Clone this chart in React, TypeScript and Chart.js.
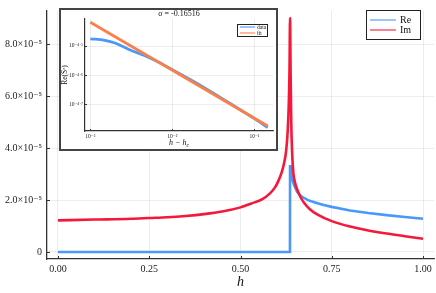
import { useEffect, useRef } from "react";
import { Chart, registerables } from "chart.js";

Chart.register(...registerables);

// ---------- main plot data ----------
const hRe = [0, 0.6355, 0.6357, 0.638, 0.641, 0.645, 0.65, 0.655, 0.665, 0.672, 0.685, 0.7, 0.725, 0.75, 0.8, 0.85, 0.9, 0.95, 1.0];
const reVals = [0, 0, 3.35e-5, 3.05e-5, 2.85e-5, 2.65e-5, 2.48e-5, 2.32e-5, 2.17e-5, 2.1e-5, 2.0e-5, 1.93e-5, 1.82e-5, 1.74e-5, 1.6e-5, 1.5e-5, 1.42e-5, 1.35e-5, 1.28e-5];

const hIm = [0, 0.1, 0.2, 0.25, 0.3, 0.35, 0.4, 0.45, 0.5, 0.53, 0.56, 0.58, 0.595, 0.605, 0.613, 0.619, 0.625, 0.629, 0.632, 0.6343, 0.6357, 0.6372, 0.639, 0.6415, 0.6447, 0.649, 0.655, 0.665, 0.675, 0.69, 0.71, 0.75, 0.8, 0.85, 0.9, 0.95, 1.0];
const imVals = [1.22e-5, 1.25e-5, 1.28e-5, 1.31e-5, 1.34e-5, 1.39e-5, 1.46e-5, 1.56e-5, 1.72e-5, 1.87e-5, 2.04e-5, 2.25e-5, 2.5e-5, 2.78e-5, 3.08e-5, 3.4e-5, 3.9e-5, 4.6e-5, 5.6e-5, 7.1e-5, 9.02e-5, 7.0e-5, 5.0e-5, 3.8e-5, 3.05e-5, 2.7e-5, 2.42e-5, 2.1e-5, 1.88e-5, 1.65e-5, 1.45e-5, 1.19e-5, 0.98e-5, 0.83e-5, 0.71e-5, 0.61e-5, 0.51e-5];

const xTicks = [0, 0.25, 0.5, 0.75, 1.0];
const xTickLabels = ["0.00", "0.25", "0.50", "0.75", "1.00"];
const yTicks = [0, 2e-5, 4e-5, 6e-5, 8e-5];
const yTickLabels = ["0", "2.0×10⁻⁵", "4.0×10⁻⁵", "6.0×10⁻⁵", "8.0×10⁻⁵"];
const seriesNames = ["Re", "Im"];

// ---------- inset data ----------
const insetDx = [0.001, 0.0015, 0.002, 0.003, 0.005, 0.007, 0.01, 0.02, 0.05, 0.1, 0.145];
const insetRe = [3.35e-5, 3.31e-5, 3.24e-5, 3.07e-5, 2.9e-5, 2.77e-5, 2.62e-5, 2.35e-5, 2.01e-5, 1.78e-5, 1.66e-5];
const fitDx = [0.001, 0.145];
const fitVals = [3.82e-5, 1.68e-5];
const insetNames = ["data", "fit"];
const insetXTicks = [1e-3, 1e-2, 1e-1];
const insetXTickLabels = ["10⁻³", "10⁻²", "10⁻¹"];
const insetYTicks = [Math.pow(10, -4.7), Math.pow(10, -4.6), Math.pow(10, -4.5)];
const insetYTickLabels = ["10⁻⁴·⁷", "10⁻⁴·⁶", "10⁻⁴·⁵"];
const insetTitle = "σ = -0.16516";

const BLUE = "rgb(74,152,248)";
const RED = "rgb(246,24,58)";
const ORANGE = "rgb(250,128,72)";
const SERIF = "'Liberation Serif', 'DejaVu Serif', serif";
const GRID = "rgba(0,0,0,0.09)";
const AXIS = "#333";

const inTicks = {
  id: "inTicks",
  afterDraw(chart: any, _a: any, o: any) {
    const { ctx, chartArea, scales } = chart;
    const len = o.len ?? 3;
    ctx.save();
    ctx.strokeStyle = AXIS;
    ctx.lineWidth = 1;
    ctx.beginPath();
    scales.x.ticks.forEach((t: any) => {
      const px = Math.round(scales.x.getPixelForValue(t.value)) + 0.5;
      ctx.moveTo(px, chartArea.bottom);
      ctx.lineTo(px, chartArea.bottom - len);
    });
    scales.y.ticks.forEach((t: any) => {
      const py = Math.round(scales.y.getPixelForValue(t.value)) + 0.5;
      ctx.moveTo(chartArea.left, py);
      ctx.lineTo(chartArea.left + len, py);
    });
    ctx.stroke();
    ctx.restore();
  },
};

const boxLegend = {
  id: "boxLegend",
  afterDraw(chart: any, _a: any, o: any) {
    const { ctx } = chart;
    ctx.save();
    ctx.fillStyle = "#fff";
    ctx.fillRect(o.x, o.y, o.w, o.h);
    ctx.strokeStyle = "#222";
    ctx.lineWidth = 1;
    ctx.strokeRect(o.x + 0.5, o.y + 0.5, o.w, o.h);
    ctx.font = `${o.fontSize}px ${SERIF}`;
    ctx.textBaseline = "middle";
    ctx.fillStyle = "#111";
    o.labels.forEach((lab: string, i: number) => {
      const ds = chart.data.datasets[i];
      const yy = o.rowY[i];
      ctx.globalAlpha = 0.55;
      ctx.strokeStyle = ds.borderColor;
      ctx.lineWidth = o.lw;
      ctx.beginPath();
      ctx.moveTo(o.lx0, yy);
      ctx.lineTo(o.lx1, yy);
      ctx.stroke();
      ctx.globalAlpha = 1;
      ctx.fillText(lab, o.tx, yy + 0.5);
    });
    ctx.restore();
  },
};

const insetXTitle = {
  id: "insetXTitle",
  afterDraw(chart: any) {
    const { ctx, chartArea } = chart;
    const cx = (chartArea.left + chartArea.right) / 2;
    const y = chart.height - 4;
    ctx.save();
    ctx.fillStyle = "#111";
    ctx.textBaseline = "alphabetic";
    ctx.font = `italic 8px ${SERIF}`;
    const main = "h − h";
    const w1 = ctx.measureText(main).width;
    ctx.font = `italic 5.5px ${SERIF}`;
    const w2 = ctx.measureText("c").width;
    const x0 = cx - (w1 + w2) / 2;
    ctx.font = `italic 8px ${SERIF}`;
    ctx.fillText(main, x0, y);
    ctx.font = `italic 5.5px ${SERIF}`;
    ctx.fillText("c", x0 + w1, y + 1.8);
    ctx.restore();
  },
};

function MainChart() {
  const ref = useRef<HTMLCanvasElement>(null);
  useEffect(() => {
    const chart = new Chart(ref.current as HTMLCanvasElement, {
      type: "scatter",
      data: {
        datasets: [
          {
            label: seriesNames[0],
            data: hRe.map((x, i) => ({ x, y: reVals[i] })),
            showLine: true,
            borderColor: BLUE,
            backgroundColor: BLUE,
            borderWidth: 2.6,
            pointRadius: 0,
            order: 1,
          },
          {
            label: seriesNames[1],
            data: hIm.map((x, i) => ({ x, y: imVals[i] })),
            showLine: true,
            borderColor: RED,
            backgroundColor: RED,
            borderWidth: 2.6,
            pointRadius: 0,
            borderJoinStyle: "round",
            cubicInterpolationMode: "monotone",
            order: 0,
          },
        ] as any,
      },
      options: {
        animation: false,
        responsive: false,
        events: [],
        layout: { padding: { left: 0, right: 2, top: 1, bottom: 0 } },
        plugins: {
          legend: { display: false },
          tooltip: { enabled: false },
          inTicks: { len: 3 },
          boxLegend: {
            x: 366, y: 10, w: 54, h: 29,
            lx0: 370, lx1: 396, tx: 400, rowY: [20, 30], lw: 2, fontSize: 10,
            labels: seriesNames,
          },
        } as any,
        scales: {
          x: {
            type: "linear",
            min: -0.03,
            max: 1.03,
            afterBuildTicks: (s: any) => {
              s.ticks = xTicks.map((v) => ({ value: v }));
            },
            afterFit: (s: any) => {
              s.height = 34;
            },
            ticks: {
              autoSkip: false,
              maxRotation: 0,
              padding: 4,
              color: "#222",
              font: { family: SERIF, size: 10 },
              callback: (_v: any, i: number) => xTickLabels[i],
            },
            grid: { color: GRID, lineWidth: 0.8, drawTicks: false },
            border: { display: true, color: AXIS, width: 1.3 },
            title: {
              display: true,
              text: "h",
              color: "#111",
              font: { family: SERIF, size: 14, style: "italic" },
              padding: { top: 0, bottom: 2 },
            },
          },
          y: {
            type: "linear",
            min: -0.27e-5,
            max: 9.29e-5,
            afterBuildTicks: (s: any) => {
              s.ticks = yTicks.map((v) => ({ value: v }));
            },
            afterFit: (s: any) => {
              s.width = 47;
            },
            ticks: {
              autoSkip: false,
              padding: 5,
              color: "#222",
              font: { family: SERIF, size: 10 },
              callback: (_v: any, i: number) => yTickLabels[i],
            },
            grid: { color: GRID, lineWidth: 0.8, drawTicks: false },
            border: { display: true, color: AXIS, width: 1.3 },
          },
        },
      } as any,
      plugins: [inTicks, boxLegend],
    });
    return () => chart.destroy();
  }, []);
  return <canvas ref={ref} width={436} height={293} style={{ display: "block", width: 436, height: 293 }} />;
}

function InsetChart() {
  const ref = useRef<HTMLCanvasElement>(null);
  useEffect(() => {
    const chart = new Chart(ref.current as HTMLCanvasElement, {
      type: "scatter",
      data: {
        datasets: [
          {
            label: insetNames[0],
            data: insetDx.map((x, i) => ({ x, y: insetRe[i] })),
            showLine: true,
            borderColor: BLUE,
            backgroundColor: BLUE,
            borderWidth: 2.8,
            pointRadius: 0,
            cubicInterpolationMode: "monotone",
            order: 1,
          },
          {
            label: insetNames[1],
            data: fitDx.map((x, i) => ({ x, y: fitVals[i] })),
            showLine: true,
            borderColor: ORANGE,
            backgroundColor: ORANGE,
            borderWidth: 2.8,
            pointRadius: 0,
            order: 0,
          },
        ] as any,
      },
      options: {
        animation: false,
        responsive: false,
        events: [],
        layout: { padding: { left: 0, right: 3, top: 0, bottom: 0 } },
        plugins: {
          legend: { display: false },
          tooltip: { enabled: false },
          title: {
            display: true,
            text: insetTitle,
            fullSize: false,
            color: "#111",
            font: { family: SERIF, size: 8, lineHeight: 1, weight: "normal" },
            padding: { top: 0, bottom: 1 },
          },
          inTicks: { len: 2 },
          boxLegend: {
            x: 176, y: 14, w: 30, h: 12,
            lx0: 179, lx1: 194, tx: 196, rowY: [17, 23], lw: 2, fontSize: 5.5,
            labels: insetNames,
          },
        } as any,
        scales: {
          x: {
            type: "logarithmic",
            min: Math.pow(10, -3.065),
            max: Math.pow(10, -0.774),
            afterBuildTicks: (s: any) => {
              s.ticks = insetXTicks.map((v) => ({ value: v }));
            },
            afterFit: (s: any) => {
              s.height = 18;
            },
            ticks: {
              autoSkip: false,
              maxRotation: 0,
              padding: 2,
              color: "#222",
              font: { family: SERIF, size: 5.5 },
              callback: (_v: any, i: number) => insetXTickLabels[i],
            },
            grid: { color: GRID, lineWidth: 0.8, drawTicks: false },
            border: { display: true, color: AXIS, width: 1.2 },
          },
          y: {
            type: "logarithmic",
            min: Math.pow(10, -4.792),
            max: Math.pow(10, -4.407),
            afterBuildTicks: (s: any) => {
              s.ticks = insetYTicks.map((v) => ({ value: v }));
            },
            afterFit: (s: any) => {
              s.width = 24;
            },
            ticks: {
              autoSkip: false,
              padding: 2,
              color: "#222",
              font: { family: SERIF, size: 5.5 },
              callback: (_v: any, i: number) => insetYTickLabels[i],
            },
            grid: { color: GRID, lineWidth: 0.8, drawTicks: false },
            border: { display: true, color: AXIS, width: 1.2 },
            title: {
              display: true,
              text: "Re(Sᶻ)",
              color: "#111",
              font: { family: SERIF, size: 7.5 },
              padding: { top: 0, bottom: 0 },
            },
          },
        },
      } as any,
      plugins: [inTicks, boxLegend, insetXTitle],
    });
    return () => chart.destroy();
  }, []);
  return <canvas ref={ref} width={215} height={139} style={{ display: "block", width: 215, height: 139 }} />;
}

export default function App() {
  return (
    <div style={{ position: "fixed", left: 0, top: 0, width: 436, height: 293, background: "#fff", overflow: "hidden" }}>
      <MainChart />
      <div
        style={{
          position: "absolute",
          left: 59,
          top: 8,
          width: 219,
          height: 143,
          boxSizing: "border-box",
          border: "2px solid #444",
          background: "#fff",
        }}
      >
        <InsetChart />
      </div>
    </div>
  );
}
